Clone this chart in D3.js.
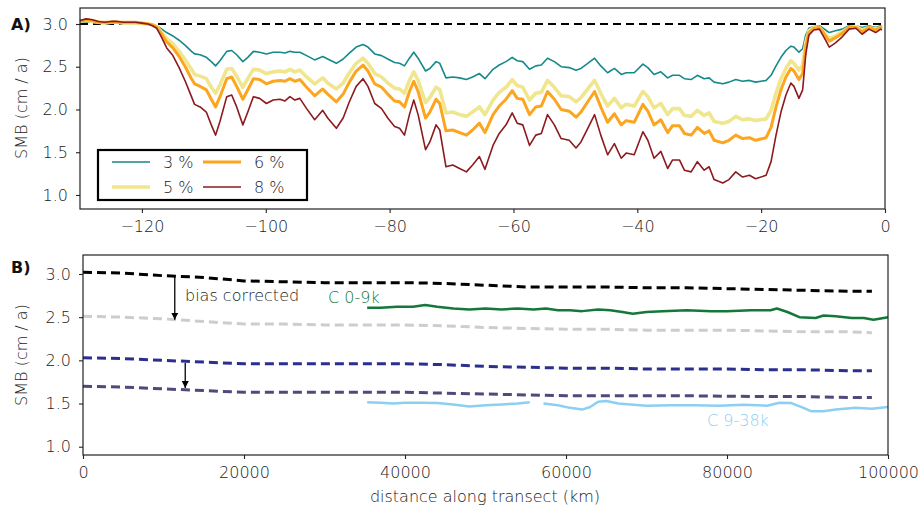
<!DOCTYPE html>
<html><head><meta charset="utf-8">
<script src="https://cdn.jsdelivr.net/npm/d3@7"></script>
<style>
body{margin:0;background:#fff;}
svg{font-family:"DejaVu Sans",sans-serif;font-weight:200;}
</style></head><body>
<svg id="c" width="921" height="508"></svg>
<script>
// ---------- Panel A data ----------
const distKm = [-130,-129,-128,-127,-126,-125,-124,-123,-122,-121,-120,-119,-118.3,-117.6,-116.8,-116,-115,-114,-113,-112,-111.5,-110.6,-109.6,-108.8,-108.1,-107.4,-106.3,-105.5,-104.7,-103.7,-102.9,-102.0,-101.0,-99.9,-98.8,-97.7,-96.9,-96.1,-95.3,-94.5,-93.4,-92.1,-90.8,-90.0,-88.6,-87.5,-86.5,-85.4,-84.3,-83.5,-82.4,-81.3,-80.3,-79.2,-78.4,-77.6,-76.8,-76.1,-75.4,-74.2,-73.5,-72.5,-71.9,-70.9,-69.8,-68.7,-67.6,-66.6,-65.5,-64.6,-63.3,-62.3,-61.2,-60.2,-59.4,-58.5,-57.4,-56.4,-55.5,-54.5,-53.4,-52.3,-51.0,-49.9,-49.1,-48.0,-46.9,-45.9,-44.8,-43.7,-42.6,-41.8,-40.5,-39.1,-38.3,-37.3,-36.2,-35.1,-34.3,-33.2,-32.4,-31.3,-30.3,-29.2,-28.4,-27.6,-26.2,-25.2,-24.1,-23.0,-21.9,-20.9,-19.2,-18.4,-17.6,-16.8,-16.0,-15.2,-14.7,-13.9,-13.3,-12.8,-12.3,-11.5,-10.6,-9.6,-9.0,-8.0,-6.9,-5.8,-4.7,-3.7,-2.6,-1.5,-0.7,-0.5];
const smb8 = [3.04,3.06,3.05,3.03,3.02,3.03,3.03,3.02,3.02,3.02,3.01,3.00,2.98,2.95,2.84,2.72,2.63,2.49,2.33,2.15,2.06,2.03,1.97,1.82,1.70,1.86,2.15,2.17,2.03,1.82,1.97,2.15,2.13,2.07,2.11,2.12,2.10,2.15,2.11,2.13,2.01,1.88,1.99,1.90,1.78,1.90,2.09,2.27,2.36,2.27,2.07,2.01,1.90,1.80,1.78,1.70,1.94,2.11,1.94,1.53,1.62,1.82,1.76,1.33,1.35,1.31,1.27,1.35,1.45,1.30,1.58,1.72,1.82,1.96,1.84,1.82,1.58,1.70,1.72,1.94,1.82,1.66,1.64,1.55,1.62,1.78,1.94,1.70,1.47,1.60,1.43,1.49,1.47,1.74,1.64,1.43,1.51,1.31,1.41,1.41,1.29,1.27,1.39,1.29,1.33,1.18,1.14,1.18,1.27,1.21,1.23,1.19,1.23,1.39,1.70,1.97,2.17,2.31,2.27,2.13,2.23,2.64,2.87,2.93,2.94,2.81,2.73,2.78,2.85,2.94,2.95,2.88,2.94,2.90,2.94,2.93];
const smb3 = [3.02,3.02,3.02,3.01,3.01,3.01,3.01,3.01,3.01,3.01,3.00,3.00,2.99,2.98,2.94,2.90,2.86,2.81,2.75,2.68,2.65,2.64,2.61,2.56,2.51,2.57,2.68,2.69,2.64,2.56,2.61,2.68,2.67,2.65,2.67,2.67,2.66,2.68,2.67,2.67,2.63,2.58,2.62,2.59,2.54,2.59,2.66,2.73,2.76,2.73,2.65,2.63,2.59,2.55,2.54,2.51,2.60,2.67,2.60,2.45,2.48,2.56,2.54,2.37,2.38,2.37,2.35,2.38,2.42,2.36,2.47,2.52,2.56,2.61,2.57,2.56,2.47,2.51,2.52,2.60,2.56,2.50,2.49,2.46,2.48,2.54,2.60,2.51,2.43,2.48,2.41,2.43,2.43,2.53,2.49,2.41,2.44,2.37,2.40,2.40,2.36,2.35,2.40,2.36,2.37,2.32,2.30,2.32,2.35,2.33,2.34,2.32,2.34,2.40,2.51,2.61,2.69,2.74,2.73,2.67,2.71,2.87,2.95,2.97,2.98,2.93,2.90,2.92,2.94,2.98,2.98,2.96,2.98,2.96,2.98,2.97];
const smb5 = [3.03,3.04,3.03,3.02,3.01,3.02,3.02,3.01,3.01,3.01,3.01,3.00,2.99,2.97,2.90,2.83,2.77,2.68,2.58,2.47,2.41,2.39,2.36,2.26,2.19,2.29,2.47,2.48,2.39,2.26,2.36,2.47,2.46,2.42,2.44,2.45,2.44,2.47,2.44,2.46,2.38,2.30,2.37,2.31,2.24,2.31,2.43,2.54,2.60,2.54,2.42,2.38,2.31,2.25,2.24,2.19,2.34,2.44,2.34,2.08,2.14,2.26,2.23,1.96,1.97,1.94,1.92,1.97,2.03,1.94,2.11,2.20,2.26,2.35,2.28,2.26,2.11,2.19,2.20,2.34,2.26,2.16,2.15,2.09,2.14,2.24,2.34,2.19,2.04,2.13,2.02,2.06,2.04,2.21,2.15,2.02,2.07,1.94,2.01,2.01,1.93,1.92,1.99,1.93,1.96,1.86,1.84,1.86,1.92,1.88,1.89,1.87,1.89,1.99,2.19,2.36,2.48,2.57,2.54,2.46,2.52,2.78,2.92,2.96,2.96,2.88,2.83,2.86,2.91,2.96,2.97,2.93,2.96,2.94,2.96,2.96];
const smb6 = [3.03,3.05,3.04,3.02,3.02,3.02,3.02,3.02,3.02,3.02,3.01,3.00,2.99,2.96,2.88,2.79,2.72,2.62,2.50,2.36,2.30,2.27,2.23,2.12,2.03,2.15,2.36,2.38,2.27,2.12,2.23,2.36,2.35,2.30,2.33,2.34,2.33,2.36,2.33,2.35,2.26,2.16,2.24,2.18,2.09,2.18,2.32,2.45,2.52,2.45,2.30,2.26,2.18,2.10,2.09,2.03,2.21,2.33,2.21,1.90,1.97,2.12,2.07,1.75,1.76,1.73,1.70,1.76,1.84,1.73,1.94,2.04,2.12,2.22,2.13,2.12,1.94,2.03,2.04,2.21,2.12,2.00,1.98,1.91,1.97,2.09,2.21,2.03,1.85,1.95,1.82,1.87,1.85,2.06,1.98,1.82,1.88,1.73,1.81,1.81,1.72,1.70,1.79,1.72,1.75,1.64,1.61,1.64,1.70,1.66,1.67,1.64,1.67,1.79,2.03,2.23,2.38,2.48,2.45,2.35,2.42,2.73,2.90,2.95,2.96,2.86,2.80,2.84,2.89,2.96,2.96,2.91,2.96,2.93,2.96,2.95];
const seriesA = [
  {label:"3 %", values:smb3, color:"#16898a", width:1.6},
  {label:"5 %", values:smb5, color:"#efe68e", width:3.6},
  {label:"6 %", values:smb6, color:"#fca51f", width:3.0},
  {label:"8 %", values:smb8, color:"#8c1a1f", width:1.6}
];
const ticksAX = [-120,-100,-80,-60,-40,-20,0];
const ticksY = [1.0,1.5,2.0,2.5,3.0];

// ---------- Panel B data ----------
const transX = [0,5000,10000,15000,20000,25000,30000,35000,40000,45000,50000,55000,60000,65000,70000,75000,80000,85000,90000,95000,98000];
const bBlack = [3.02,3.01,2.98,2.96,2.92,2.91,2.90,2.90,2.90,2.89,2.87,2.85,2.85,2.85,2.84,2.84,2.83,2.82,2.81,2.80,2.80];
const bGrey  = [2.51,2.50,2.48,2.45,2.42,2.42,2.41,2.41,2.41,2.40,2.38,2.37,2.36,2.36,2.35,2.35,2.35,2.34,2.33,2.33,2.32];
const bBlue  = [2.03,2.02,2.00,1.98,1.96,1.96,1.96,1.96,1.96,1.95,1.93,1.92,1.91,1.91,1.90,1.90,1.90,1.89,1.89,1.88,1.88];
const bPurp  = [1.70,1.69,1.67,1.65,1.63,1.63,1.63,1.63,1.63,1.62,1.61,1.60,1.59,1.59,1.59,1.59,1.585,1.58,1.58,1.57,1.57];
const c09X = [35300,37000,39000,41000,42500,44000,46000,48000,50000,52000,54000,56000,57500,59000,60500,62000,64000,65500,67000,68300,70000,72000,75000,78000,80000,83000,85400,86200,87500,89000,91000,92000,93500,95500,97000,98200,100000];
const c09Y = [2.61,2.61,2.62,2.62,2.64,2.62,2.60,2.59,2.60,2.59,2.60,2.59,2.60,2.58,2.58,2.57,2.59,2.58,2.56,2.54,2.56,2.57,2.58,2.57,2.57,2.58,2.58,2.60,2.56,2.50,2.49,2.52,2.51,2.49,2.49,2.47,2.50];
const c938X = [35300,37000,38500,40000,42000,44000,46000,48000,50000,52000,54000,55500,56300,57200,59000,60500,62000,63000,64000,65000,66500,68000,70000,73000,76000,79000,82000,85000,86500,88000,89500,90500,92000,93500,96000,98000,100000];
const c938Y = [1.515,1.51,1.50,1.51,1.51,1.505,1.49,1.465,1.48,1.49,1.50,1.515,null,1.50,1.48,1.45,1.43,1.46,1.52,1.53,1.50,1.49,1.475,1.48,1.48,1.475,1.485,1.475,1.51,1.505,1.45,1.41,1.41,1.43,1.45,1.44,1.46];
const ticksBX = [0,20000,40000,60000,80000,100000];

// ---------- drawing ----------
const svg = d3.select("#c");
const fs = 16;

// Panel A
const xA = d3.scaleLinear().domain([-130,0]).range([80,885]);
const yA = d3.scaleLinear().domain([0.836,3.187]).range([209,8]);
const gA = svg.append("g");
function styleAxis(g){
  g.selectAll(".domain").remove();
  g.selectAll(".tick line").attr("stroke","#222").attr("stroke-width",1.1);
  g.selectAll(".tick text").attr("fill","#222").style("font-size",fs+"px").style("font-weight",200)
    .style("font-family","'DejaVu Sans',sans-serif");
}
const fmtMinus = d => d < 0 ? "\u2212" + Math.abs(d) : String(d);
gA.append("g").attr("transform","translate(0,209)")
  .call(d3.axisBottom(xA).tickValues(ticksAX).tickFormat(fmtMinus).tickSize(4).tickPadding(8)).call(styleAxis);
gA.append("g").attr("transform","translate(80,0)")
  .call(d3.axisLeft(yA).tickValues(ticksY).tickFormat(d3.format(".1f")).tickSize(4).tickPadding(8)).call(styleAxis);
// reference line 3.0
gA.append("line").attr("x1",xA(-130)).attr("x2",xA(0)).attr("y1",yA(3)).attr("y2",yA(3))
  .attr("stroke","#000").attr("stroke-width",2).attr("stroke-dasharray","8,5");
const lineA = vals => d3.line().x((d,i)=>xA(distKm[i])).y(d=>yA(d))(vals);
seriesA.forEach(s=>{
  gA.append("path").attr("d",lineA(s.values)).attr("fill","none")
    .attr("stroke",s.color).attr("stroke-width",s.width).attr("stroke-linejoin","round");
});
gA.append("rect").attr("x",80).attr("y",8).attr("width",805).attr("height",201)
  .attr("fill","none").attr("stroke","#222").attr("stroke-width",1.2);
// legend
const leg = gA.append("g");
leg.append("rect").attr("x",98).attr("y",150).attr("width",209).attr("height",50)
  .attr("fill","#fff").attr("stroke","#000").attr("stroke-width",2.2);
const legPos = [[112,162],[112,187],[203,162],[203,187]];
seriesA.forEach((s,i)=>{
  const [lx,ly] = legPos[i];
  leg.append("line").attr("x1",lx).attr("x2",lx+38).attr("y1",ly).attr("y2",ly)
    .attr("stroke",s.color).attr("stroke-width",s.width);
  leg.append("text").attr("x",lx+51).attr("y",ly+6).text(s.label)
    .style("font-size",fs+"px").attr("fill","#222");
});
svg.append("text").attr("x",11).attr("y",30).text("A)").style("font-size","16px")
  .style("font-weight",700).attr("fill","#111");
svg.append("text").attr("transform","translate(27,108) rotate(-90)").attr("text-anchor","middle")
  .text("SMB (cm / a)").style("font-size",fs+"px").attr("fill","#222");

// Panel B
const xB = d3.scaleLinear().domain([0,100000]).range([83,888]);
const yB = d3.scaleLinear().domain([0.904,3.22]).range([455,255]);
const gB = svg.append("g");
gB.append("g").attr("transform","translate(0,455)")
  .call(d3.axisBottom(xB).tickValues(ticksBX).tickFormat(d3.format("d")).tickSize(4).tickPadding(8)).call(styleAxis);
gB.append("g").attr("transform","translate(83,0)")
  .call(d3.axisLeft(yB).tickValues(ticksY).tickFormat(d3.format(".1f")).tickSize(4).tickPadding(8)).call(styleAxis);
const lineB = d3.line().defined(d=>d[1]!==null).x(d=>xB(d[0])).y(d=>yB(d[1]));
const dashed = [
  {v:bBlack,c:"#000000"},{v:bGrey,c:"#cdcdcd"},{v:bBlue,c:"#2b2f8e"},{v:bPurp,c:"#4f4a7c"}
];
dashed.forEach(s=>{
  gB.append("path").attr("d",lineB(transX.map((x,i)=>[x,s.v[i]]))).attr("fill","none")
    .attr("stroke",s.c).attr("stroke-width",3).attr("stroke-dasharray","9,5");
});
gB.append("path").attr("d",lineB(c09X.map((x,i)=>[x,c09Y[i]]))).attr("fill","none")
  .attr("stroke","#13783a").attr("stroke-width",2.5).attr("stroke-linejoin","round");
gB.append("path").attr("d",lineB(c938X.map((x,i)=>[x,c938Y[i]]))).attr("fill","none")
  .attr("stroke","#8ccff3").attr("stroke-width",2.5).attr("stroke-linejoin","round");
// arrows
const defs = svg.append("defs");
defs.append("marker").attr("id","ah").attr("viewBox","0 0 10 10").attr("refX",10).attr("refY",5)
  .attr("markerWidth",7).attr("markerHeight",7).attr("markerUnits","userSpaceOnUse").attr("orient","auto")
  .append("path").attr("d","M0,0L10,5L0,10z").attr("fill","#000");
[[11400,2.97,2.47],[12700,1.97,1.68]].forEach(a=>{
  gB.append("line").attr("x1",xB(a[0])).attr("x2",xB(a[0])).attr("y1",yB(a[1])).attr("y2",yB(a[2]))
    .attr("stroke","#000").attr("stroke-width",1.3).attr("marker-end","url(#ah)");
});
gB.append("text").attr("x",185).attr("y",301).text("bias corrected").style("font-size",fs+"px").attr("fill","#222");
gB.append("text").attr("x",328).attr("y",303).text("C 0-9k").style("font-size",fs+"px").attr("fill","#13783a");
gB.append("text").attr("x",707).attr("y",426).text("C 9-38k").style("font-size",fs+"px").attr("fill","#8ccff3");
gB.append("rect").attr("x",83).attr("y",255).attr("width",805).attr("height",200)
  .attr("fill","none").attr("stroke","#222").attr("stroke-width",1.2);
svg.append("text").attr("x",11).attr("y",273).text("B)").style("font-size","16px")
  .style("font-weight",700).attr("fill","#111");
svg.append("text").attr("transform","translate(27,355) rotate(-90)").attr("text-anchor","middle")
  .text("SMB (cm / a)").style("font-size",fs+"px").attr("fill","#222");
svg.append("text").attr("x",485).attr("y",502).attr("text-anchor","middle")
  .text("distance along transect (km)").style("font-size",fs+"px").attr("fill","#222");
</script></body></html>
